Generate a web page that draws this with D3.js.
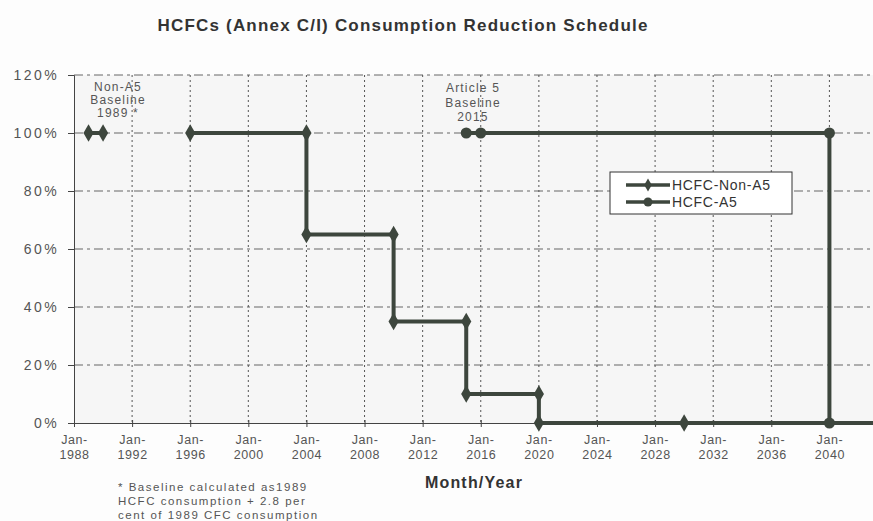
<!DOCTYPE html>
<html><head><meta charset="utf-8">
<script src="https://cdn.jsdelivr.net/npm/d3@7"></script>
<style>body{margin:0;background:#fff}svg{display:block;font-family:Arial,"Liberation Sans",sans-serif}</style>
</head><body><svg id="c" width="873" height="521"></svg>
<script>
const title = "HCFCs (Annex C/I) Consumption Reduction Schedule";
const xTickYears = [1988,1992,1996,2000,2004,2008,2012,2016,2020,2024,2028,2032,2036,2040];
const yTicks = [0,20,40,60,80,100,120];
// Non-A5 step schedule (year, % of baseline); null = gap
const nonA5Years = [1989,1990,1990.5,1996,2004,2004,2010,2010,2015,2015,2020,2020,2030,2043];
const nonA5Values = [100,100,null,100,100,65,65,35,35,10,10,0,0,0];
const nonA5Markers = [true,true,false,true,true,true,true,true,true,true,true,true,true,false];
// A5 schedule
const a5Years = [2015,2016,2040,2040,2043];
const a5Values = [100,100,100,0,0];
const a5Markers = [true,true,true,true,false];
const seriesNames = ["HCFC-Non-A5","HCFC-A5"];
const footnote = ["* Baseline calculated as1989","HCFC consumption + 2.8 per","cent of 1989 CFC consumption"];

const svg = d3.select("#c");
const m = {l:74, r:873, t:75, b:423};
const x = d3.scaleLinear().domain([1988,2043]).range([m.l,m.r]);
const y = d3.scaleLinear().domain([0,120]).range([m.b,m.t]);
const col = "#3d463d";
const FF = "Arial,'Liberation Sans',sans-serif";

svg.append("rect").attr("width",873).attr("height",521).attr("fill","#fdfdfd");
svg.append("rect").attr("x",m.l).attr("y",m.t).attr("width",m.r-m.l).attr("height",m.b-m.t).attr("fill","#f6f6f6");

// title
svg.append("text").attr("x",403).attr("y",31).attr("text-anchor","middle")
  .attr("font-size",17).attr("letter-spacing",1.2).attr("font-weight","bold").attr("fill","#333").text(title);

// grid
const g = svg.append("g");
g.selectAll("line.h").data(yTicks.filter(d=>d>0)).join("line")
  .attr("x1",m.l).attr("x2",m.r).attr("y1",d=>y(d)).attr("y2",d=>y(d))
  .attr("stroke","#666").attr("stroke-width",1).attr("stroke-dasharray","9,4,3,4");
g.selectAll("line.v").data(xTickYears.filter(d=>d>1988)).join("line")
  .attr("x1",d=>x(d)).attr("x2",d=>x(d)).attr("y1",m.t).attr("y2",m.b)
  .attr("stroke","#555").attr("stroke-width",1).attr("stroke-dasharray","2,3");

// axes
const ya = d3.axisLeft(y).tickValues(yTicks).tickFormat(d=>d+"%").tickSize(6).tickPadding(9);
const yg = svg.append("g").attr("transform",`translate(${m.l},0)`).call(ya);
yg.select(".domain").attr("stroke","#444");
yg.selectAll(".tick line").attr("stroke","#444");
yg.selectAll("text").attr("font-size",14).attr("letter-spacing",2.4).attr("fill","#555").attr("font-family",FF);

const xa = d3.axisBottom(x).tickValues(xTickYears).tickSize(4).tickFormat("");
const xg = svg.append("g").attr("transform",`translate(0,${m.b})`).call(xa);
xg.select(".domain").attr("stroke","#444");
xg.selectAll(".tick line").attr("stroke","#444").attr("y1",-3);
xg.selectAll(".tick").append("text").attr("text-anchor","middle").attr("fill","#555")
  .attr("font-size",12.5).attr("letter-spacing",0.6).attr("font-family",FF)
  .each(function(d){
    const t=d3.select(this);
    t.append("tspan").attr("x",0).attr("y",21).text("Jan-");
    t.append("tspan").attr("x",0).attr("y",36).text(d);
  });

// x-axis title
svg.append("text").attr("x",474).attr("y",488).attr("text-anchor","middle")
  .attr("font-size",16).attr("letter-spacing",1.2).attr("font-weight","bold").attr("fill","#333").text("Month/Year");

// footnote
svg.append("g").selectAll("text").data(footnote).join("text")
  .attr("x",118).attr("y",(d,i)=>491+i*14).attr("font-size",11.5).attr("letter-spacing",1.5).attr("fill","#555").text(d=>d);

// annotations
const ann = (cx, lines, y0, dy) => svg.append("g").selectAll("text").data(lines).join("text")
  .attr("x",cx).attr("y",(d,i)=>y0+i*dy).attr("text-anchor","middle").attr("font-size",12).attr("letter-spacing",1.2).attr("fill","#555").text(d=>d);
ann(118,["Non-A5","Baseline","1989 *"],91,13);
ann(473,["Article 5","Baseline","2015"],92,14.5);

// series
svg.append("clipPath").attr("id","cp").append("rect").attr("x",m.l-8).attr("y",m.t-10).attr("width",m.r-m.l+8).attr("height",m.b-m.t+20);
const plot = svg.append("g").attr("clip-path","url(#cp)");
const line = d3.line().defined(d=>d.v!==null).x(d=>x(d.yr)).y(d=>y(d.v));
const nonA5 = nonA5Years.map((yr,i)=>({yr,v:nonA5Values[i],mk:nonA5Markers[i]}));
const a5 = a5Years.map((yr,i)=>({yr,v:a5Values[i],mk:a5Markers[i]}));
plot.append("path").datum(nonA5).attr("d",line).attr("fill","none").attr("stroke",col).attr("stroke-width",4);
plot.append("path").datum(a5).attr("d",line).attr("fill","none").attr("stroke",col).attr("stroke-width",4);
const diamond = d3.symbol().type(d3.symbolDiamond).size(90);
plot.selectAll("path.dm").data(nonA5.filter(d=>d.mk && d.v!==null)).join("path")
  .attr("transform",d=>`translate(${x(d.yr)},${y(d.v)})`).attr("d",diamond).attr("fill",col);
plot.selectAll("circle.a5").data(a5.filter(d=>d.mk)).join("circle")
  .attr("cx",d=>x(d.yr)).attr("cy",d=>y(d.v)).attr("r",5.5).attr("fill",col);

// legend
const lg = svg.append("g").attr("transform","translate(610,172)");
lg.append("rect").attr("width",182).attr("height",42).attr("fill","#fff").attr("stroke","#333").attr("stroke-width",1);
[0,1].forEach(i=>{
  const yy = 13+i*17;
  lg.append("line").attr("x1",16).attr("x2",60).attr("y1",yy).attr("y2",yy).attr("stroke",col).attr("stroke-width",3.5);
  if(i===0) lg.append("path").attr("transform",`translate(38,${yy})`).attr("d",d3.symbol().type(d3.symbolDiamond).size(50)).attr("fill",col);
  else lg.append("circle").attr("cx",38).attr("cy",yy).attr("r",4.5).attr("fill",col);
  lg.append("text").attr("x",62).attr("y",yy+5).attr("font-size",14).attr("letter-spacing",0.7).attr("fill","#333").text(seriesNames[i]);
});
</script></body></html>
